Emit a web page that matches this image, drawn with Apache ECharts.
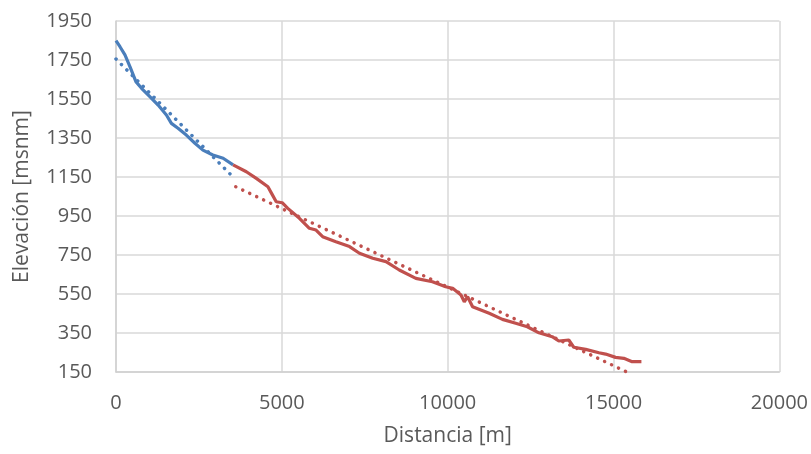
<!DOCTYPE html>
<html><head><meta charset="utf-8">
<script src="https://cdn.jsdelivr.net/npm/echarts@6/dist/echarts.min.js"></script>
<style>html,body{margin:0;padding:0;background:#fff}#c{width:811px;height:454px}</style>
</head><body><div id="c"></div>
<script>
const blueDist = [0,120,270,420,600,770,1020,1270,1520,1670,1870,2120,2380,2620,2920,3230,3530];
const blueElev = [1849,1818,1776,1716,1639,1605,1562,1519,1468,1425,1400,1365,1323,1288,1263,1246,1212];
const redDist = [3530,3930,4230,4580,4690,4830,5010,5180,5530,5830,6030,6230,6630,7040,7340,7740,8140,8540,9040,9540,9940,10150,10400,10500,10600,10750,11250,11650,12050,12400,12750,13150,13350,13650,13800,14160,14560,14760,15060,15310,15560,15840];
const redElev = [1212,1177,1143,1100,1066,1023,1018,989,938,887,878,844,818,793,759,733,716,673,630,613,587,579,545,510,536,485,451,420,400,382,351,331,309,314,277,266,249,242,225,220,203,203];
const blueTrendDist = [0,3530];
const blueTrendElev = [1755,1150];
const redTrendDist = [3610,15400];
const redTrendElev = [1100,150];

const zip = (a,b)=>a.map((v,i)=>[v,b[i]]);
const font = '"Open Sans", "Liberation Sans", sans-serif';
const chart = echarts.init(document.getElementById('c'));
const dotted = (color)=>({color, width:3.5, type:[0.1,7.6], cap:'round'});
chart.setOption({
  animation:false,
  grid:{left:116,top:21,right:30,bottom:82},
  xAxis:{type:'value',min:0,max:20000,interval:5000,
    name:'Distancia [m]',nameLocation:'middle',nameGap:54,
    nameTextStyle:{fontFamily:font,fontSize:21,color:'#595959'},
    axisLine:{show:true,lineStyle:{color:'#d0d0d0',width:1.5}},
    axisTick:{show:false},
    axisLabel:{fontFamily:font,fontSize:20,color:'#595959',margin:21,formatter:v=>String(v)},
    splitLine:{show:true,lineStyle:{color:'#d9d9d9',width:1.5}}},
  yAxis:{type:'value',min:150,max:1950,interval:200,
    name:'Elevación [msnm]',nameLocation:'middle',nameGap:83,
    nameTextStyle:{fontFamily:font,fontSize:21,color:'#595959'},
    axisLine:{show:true,lineStyle:{color:'#d0d0d0',width:1.5}},
    axisTick:{show:false},
    axisLabel:{fontFamily:font,fontSize:20,color:'#595959',margin:24,formatter:v=>String(v)},
    splitLine:{show:true,lineStyle:{color:'#d9d9d9',width:1.5}}},
  series:[
    {type:'line',data:zip(blueTrendDist,blueTrendElev),showSymbol:false,lineStyle:dotted('#4a7ebb'),z:2},
    {type:'line',data:zip(redTrendDist,redTrendElev),showSymbol:false,lineStyle:dotted('#c0504d'),z:2},
    {type:'line',data:zip(blueDist,blueElev),showSymbol:false,lineStyle:{color:'#4a7ebb',width:3.2},z:3},
    {type:'line',data:zip(redDist,redElev),showSymbol:false,lineStyle:{color:'#c0504d',width:3.2},z:3}
  ]
});
</script></body></html>
